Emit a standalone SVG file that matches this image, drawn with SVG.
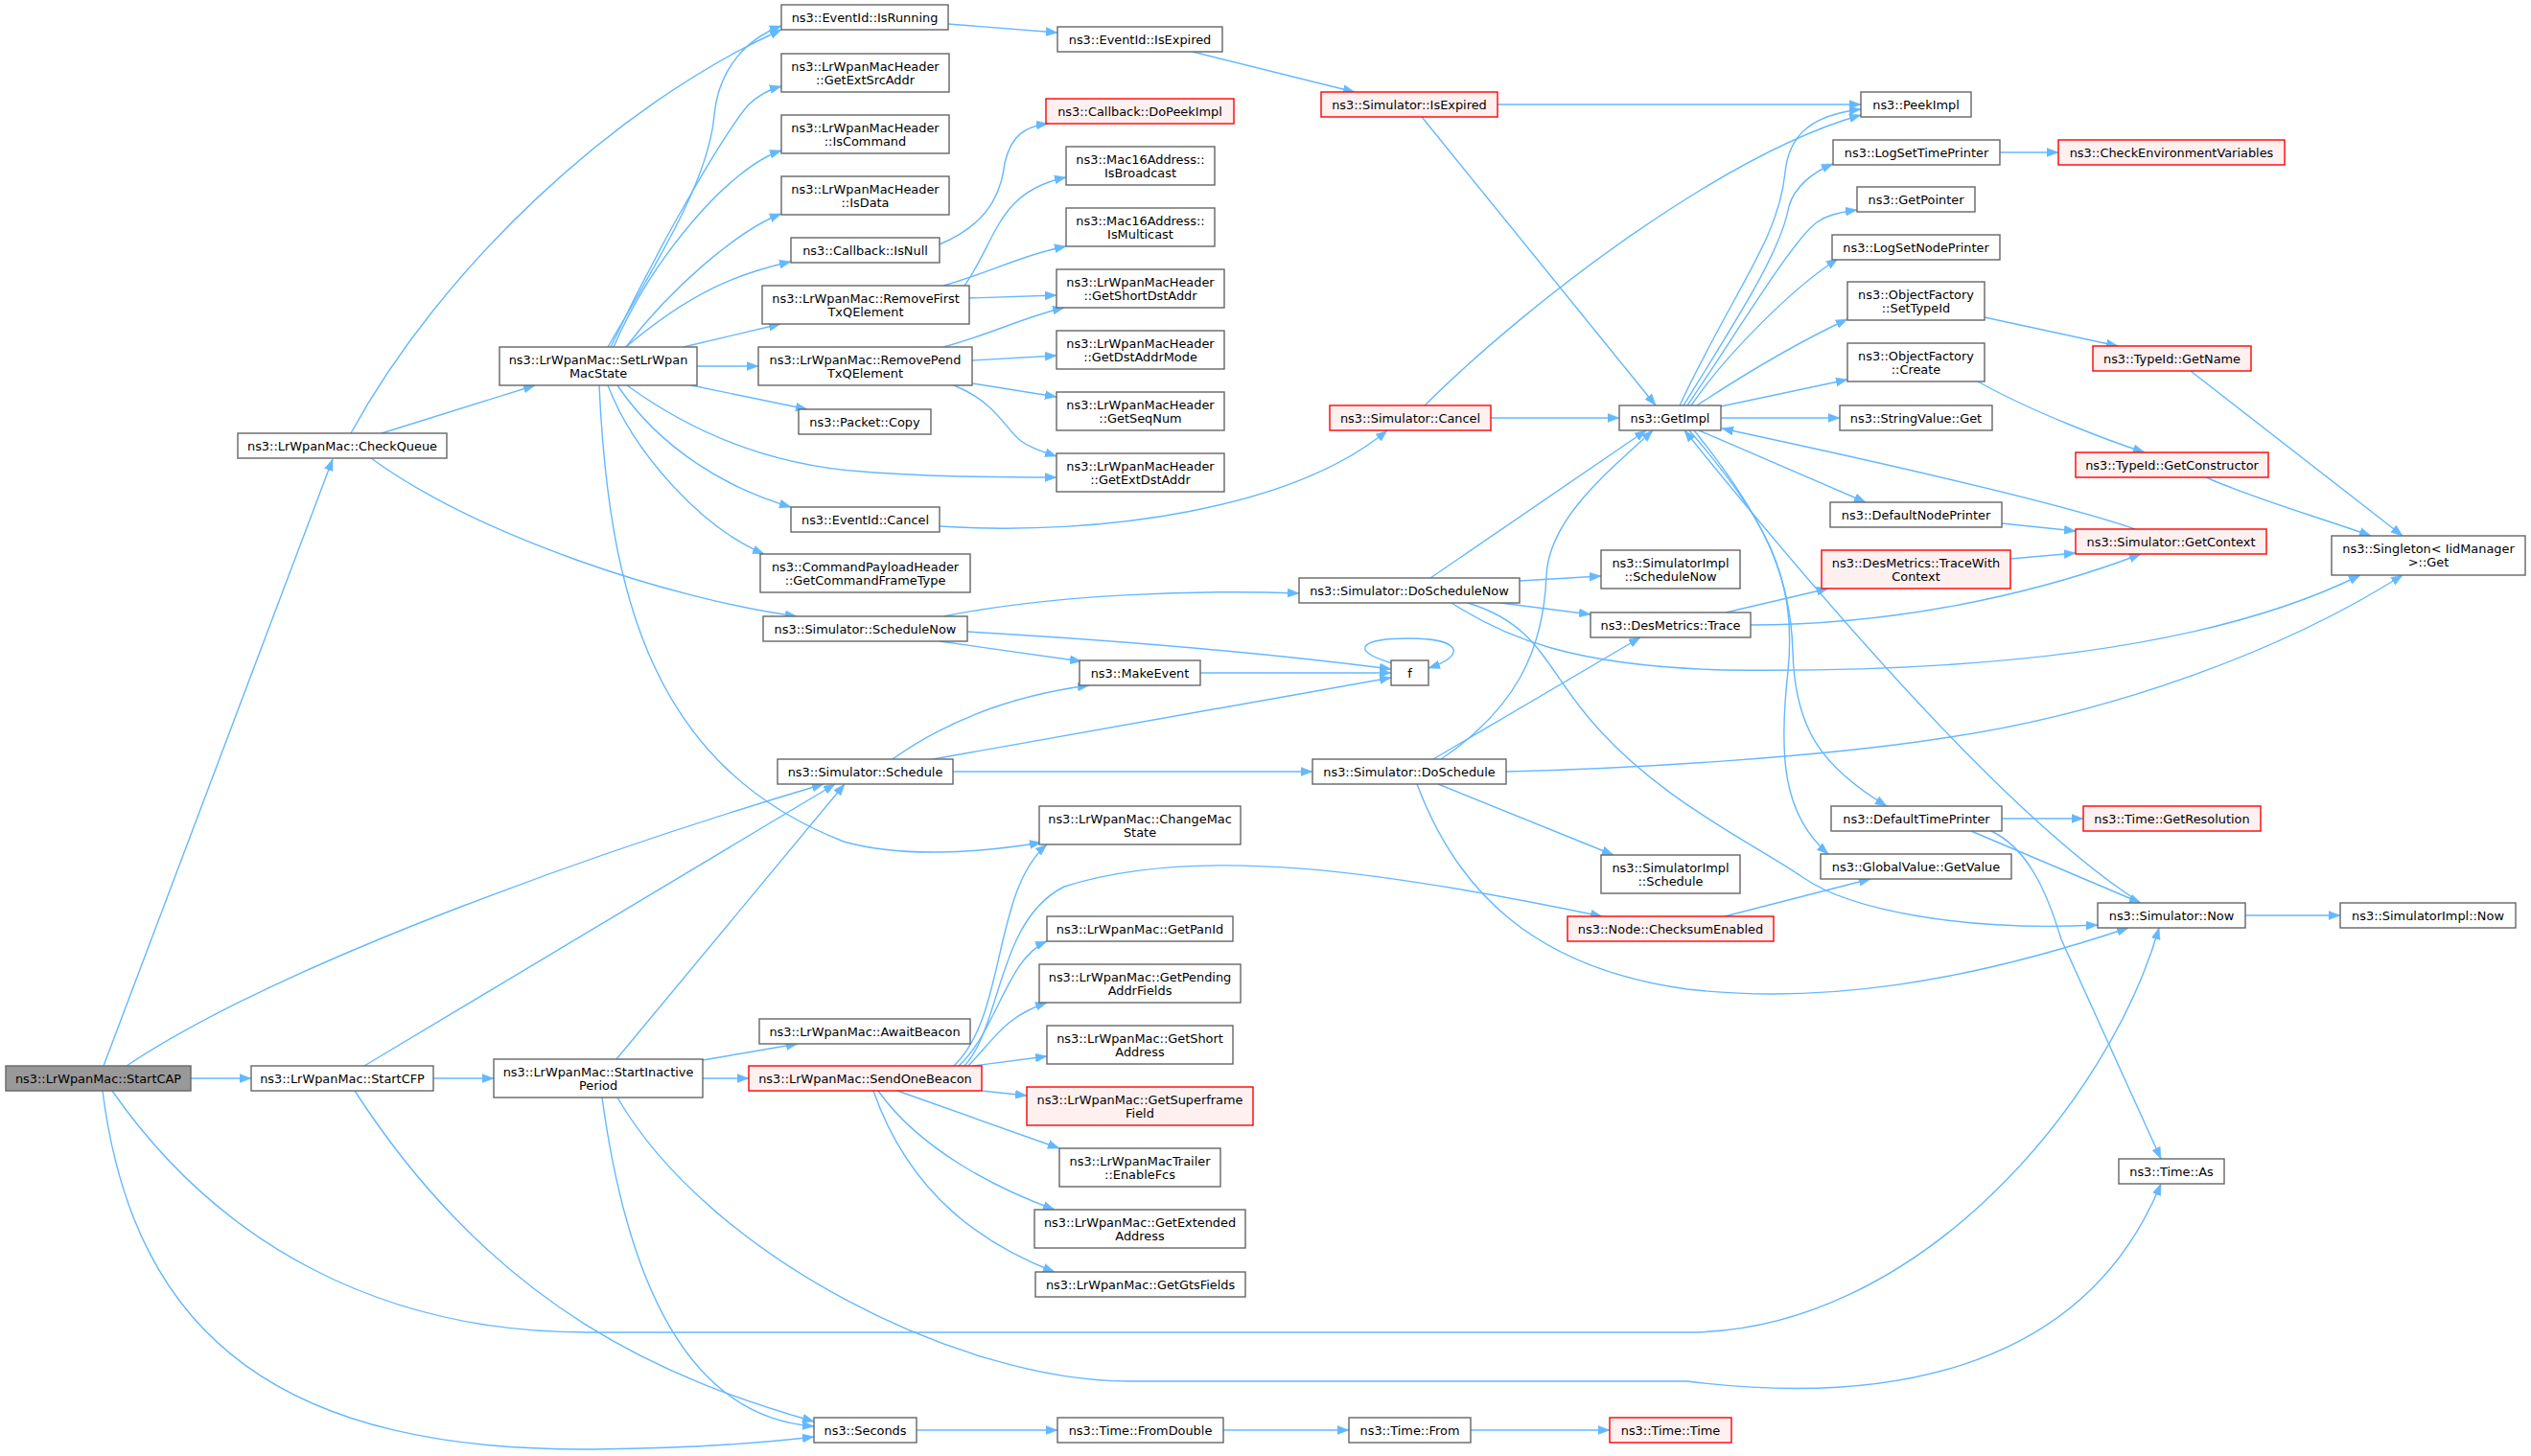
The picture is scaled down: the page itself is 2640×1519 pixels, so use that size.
<svg xmlns="http://www.w3.org/2000/svg" width="2640" height="1519" viewBox="0 0 2640 1519">
<style>
.n rect{fill:#ffffff;stroke:#666666;stroke-width:1.4}
.r rect{fill:#FFF0F0;stroke:#FF0000;stroke-width:1.4}
.root rect{fill:#999999;stroke:#666666;stroke-width:1.4}
text{font-family:"DejaVu Sans","Liberation Sans",sans-serif;font-size:12.9px;text-anchor:middle;fill:#000000}
#edges path{fill:none;stroke:#63B8FF;stroke-width:1.4;marker-end:url(#ah)}
</style>
<defs>
<marker id="ah" viewBox="0 0 12 10" refX="12" refY="5" markerWidth="12" markerHeight="10" markerUnits="userSpaceOnUse" orient="auto">
<path d="M0,0.5 L12,5 L0,9.5 z" fill="#63B8FF" stroke="#63B8FF" stroke-width="0.5"/>
</marker>
</defs>
<rect x="0" y="0" width="2640" height="1519" fill="#ffffff"/>
<g id="edges">
<path d="M108,1112 L347,479"/>
<path d="M132,1112 C300,1000 650,880 859,818"/>
<path d="M199,1125 L262,1125"/>
<path d="M117,1138 C230,1300 400,1390 612,1390 L1760,1390 C2000,1390 2200,1150 2252,968"/>
<path d="M107,1138 C140,1400 300,1515 620,1512 C720,1511 790,1506 849,1499"/>
<path d="M380,1112 L871,818"/>
<path d="M452,1125 L515,1125"/>
<path d="M370,1138 C520,1370 700,1440 849,1483"/>
<path d="M643,1105 L881,818"/>
<path d="M733,1106 L832,1089"/>
<path d="M733,1125 L781,1125"/>
<path d="M628,1145 C660,1380 740,1480 849,1488"/>
<path d="M644,1145 C740,1310 1000,1441 1177,1441 L1760,1441 C1950,1465 2170,1440 2254,1235"/>
<path d="M995,1112 C1050,1060 1035,930 1092,881"/>
<path d="M1000,1112 C1040,1075 1050,1000 1092,982"/>
<path d="M1006,1112 C1045,1070 1040,960 1110,925 C1250,880 1450,910 1671,956"/>
<path d="M1010,1112 C1040,1080 1050,1060 1092,1046"/>
<path d="M1015,1112 L1092,1102"/>
<path d="M1024,1138 L1071,1143"/>
<path d="M936,1138 L1105,1198"/>
<path d="M916,1138 C960,1200 1040,1240 1100,1262"/>
<path d="M911,1138 C950,1250 1030,1300 1100,1327"/>
<path d="M634,362 C700,250 740,180 745,120 C750,70 780,40 815,27"/>
<path d="M637,362 C690,250 755,140 780,110 C790,100 800,94 815,90"/>
<path d="M640,362 C680,270 760,175 815,157"/>
<path d="M653,362 C700,300 770,240 815,223"/>
<path d="M653,362 C720,305 770,285 825,273"/>
<path d="M713,362 L814,338"/>
<path d="M727,382 L791,382"/>
<path d="M721,402 L842,427"/>
<path d="M654,402 C720,450 800,485 900,492 C960,497 1040,498 1102,498"/>
<path d="M644,402 C690,470 760,510 825,529"/>
<path d="M634,402 C660,470 730,550 797,578"/>
<path d="M625,402 C635,620 680,800 880,878 C940,895 1020,890 1086,879"/>
<path d="M366,452 C460,280 640,110 815,31"/>
<path d="M398,452 L558,402"/>
<path d="M387,478 C500,560 700,625 831,643"/>
<path d="M984,643 C1100,620 1250,615 1355,619"/>
<path d="M1008,659 C1200,670 1350,685 1451,698"/>
<path d="M980,669 L1128,690"/>
<path d="M931,792 C990,750 1060,725 1136,715"/>
<path d="M973,792 L1451,707"/>
<path d="M994,805 L1369,805"/>
<path d="M1252,702 L1451,702"/>
<path d="M1452,692 C1405,678 1420,666 1470,666 C1525,666 1530,684 1490,697"/>
<path d="M1492,603 L1717,449"/>
<path d="M1585,606 L1670,601"/>
<path d="M1565,629 L1659,641"/>
<path d="M1514,629 C1570,665 1640,695 1800,699 C2050,702 2300,680 2462,600"/>
<path d="M1531,629 C1600,650 1610,690 1650,740 C1720,830 1830,880 1880,915 C1930,950 2050,972 2188,965"/>
<path d="M1503,792 C1580,740 1610,680 1613,600 C1616,540 1680,490 1724,449"/>
<path d="M1495,792 L1711,665"/>
<path d="M1571,805 C1700,802 1900,790 2027,770 C2200,745 2380,680 2506,600"/>
<path d="M1500,818 L1683,892"/>
<path d="M1478,818 C1520,930 1600,1010 1760,1032 C1900,1048 2050,1025 2220,968"/>
<path d="M1752,423 C1810,300 1855,250 1862,180 C1866,140 1890,120 1941,114"/>
<path d="M1756,423 C1820,320 1858,260 1866,215 C1872,195 1890,180 1912,171"/>
<path d="M1760,423 C1810,350 1870,250 1895,232 C1905,225 1915,222 1937,219"/>
<path d="M1764,423 C1800,370 1870,300 1917,270"/>
<path d="M1770,423 C1820,390 1880,355 1927,333"/>
<path d="M1795,424 L1927,396"/>
<path d="M1795,436 L1919,436"/>
<path d="M1772,449 L1946,524"/>
<path d="M1767,449 C1840,540 1868,600 1870,680 C1872,760 1900,800 1968,841"/>
<path d="M1762,449 C1840,540 1875,600 1865,700 C1855,790 1860,850 1907,891"/>
<path d="M2233,942 C2120,870 1960,700 1757,449"/>
<path d="M2227,552 C2150,525 1950,480 1796,447"/>
<path d="M1562,109 L1941,109"/>
<path d="M1483,122 L1727,423"/>
<path d="M1244,54 L1413,96"/>
<path d="M989,25 L1103,34"/>
<path d="M1486,423 C1600,310 1800,160 1941,120"/>
<path d="M1555,436 L1689,436"/>
<path d="M980,549 C1150,560 1350,530 1447,449"/>
<path d="M980,255 C1040,230 1045,190 1048,170 C1055,140 1070,132 1093,129"/>
<path d="M1006,298 C1040,250 1040,200 1112,185"/>
<path d="M984,298 C1030,285 1070,265 1112,257"/>
<path d="M1011,311 L1102,308"/>
<path d="M984,362 C1030,350 1070,330 1110,321"/>
<path d="M1014,376 L1102,371"/>
<path d="M1014,400 L1102,414"/>
<path d="M995,402 C1040,420 1050,450 1065,460 C1075,468 1090,472 1102,476"/>
<path d="M2070,331 L2209,361"/>
<path d="M2063,398 C2120,430 2200,460 2237,472"/>
<path d="M2285,387 L2506,559"/>
<path d="M2301,498 C2350,520 2420,540 2473,559"/>
<path d="M2086,159 L2147,159"/>
<path d="M2088,546 L2165,554"/>
<path d="M2097,583 L2165,577"/>
<path d="M1800,639 L1907,614"/>
<path d="M1826,652 C2000,652 2150,610 2233,578"/>
<path d="M2088,854 L2173,854"/>
<path d="M2056,867 L2233,942"/>
<path d="M2077,867 C2115,885 2135,930 2150,980 L2254,1209"/>
<path d="M1799,956 L1951,917"/>
<path d="M2342,955 L2441,955"/>
<path d="M956,1492 L1103,1492"/>
<path d="M1276,1492 L1407,1492"/>
<path d="M1534,1492 L1679,1492"/>
</g>
<g id="n_startcap" class="root"><rect x="6" y="1112" width="193" height="26"/><text x="102.5" y="1129.5">ns3::LrWpanMac::StartCAP</text></g>
<g id="n_checkqueue" class="n"><rect x="248" y="452" width="218" height="26"/><text x="357" y="469.5">ns3::LrWpanMac::CheckQueue</text></g>
<g id="n_startcfp" class="n"><rect x="262" y="1112" width="190" height="26"/><text x="357" y="1129.5">ns3::LrWpanMac::StartCFP</text></g>
<g id="n_setstate" class="n"><rect x="521" y="362" width="206" height="40"/><text x="624" y="379.5">ns3::LrWpanMac::SetLrWpan</text><text x="624" y="393.5">MacState</text></g>
<g id="n_startinactive" class="n"><rect x="515" y="1105" width="218" height="40"/><text x="624" y="1122.5">ns3::LrWpanMac::StartInactive</text><text x="624" y="1136.5">Period</text></g>
<g id="n_isrunning" class="n"><rect x="815" y="5" width="174" height="26"/><text x="902" y="22.5">ns3::EventId::IsRunning</text></g>
<g id="n_getextsrc" class="n"><rect x="815" y="56" width="175" height="40"/><text x="902.5" y="73.5">ns3::LrWpanMacHeader</text><text x="902.5" y="87.5">::GetExtSrcAddr</text></g>
<g id="n_iscommand" class="n"><rect x="815" y="120" width="175" height="40"/><text x="902.5" y="137.5">ns3::LrWpanMacHeader</text><text x="902.5" y="151.5">::IsCommand</text></g>
<g id="n_isdata" class="n"><rect x="815" y="184" width="175" height="40"/><text x="902.5" y="201.5">ns3::LrWpanMacHeader</text><text x="902.5" y="215.5">::IsData</text></g>
<g id="n_isnull" class="n"><rect x="825" y="248" width="155" height="26"/><text x="902.5" y="265.5">ns3::Callback::IsNull</text></g>
<g id="n_removefirst" class="n"><rect x="795" y="298" width="216" height="40"/><text x="903" y="315.5">ns3::LrWpanMac::RemoveFirst</text><text x="903" y="329.5">TxQElement</text></g>
<g id="n_removepend" class="n"><rect x="791" y="362" width="223" height="40"/><text x="902.5" y="379.5">ns3::LrWpanMac::RemovePend</text><text x="902.5" y="393.5">TxQElement</text></g>
<g id="n_copy" class="n"><rect x="833" y="427" width="138" height="26"/><text x="902" y="444.5">ns3::Packet::Copy</text></g>
<g id="n_eventcancel" class="n"><rect x="825" y="529" width="155" height="26"/><text x="902.5" y="546.5">ns3::EventId::Cancel</text></g>
<g id="n_cmdpayload" class="n"><rect x="793" y="578" width="219" height="40"/><text x="902.5" y="595.5">ns3::CommandPayloadHeader</text><text x="902.5" y="609.5">::GetCommandFrameType</text></g>
<g id="n_schedulenow" class="n"><rect x="796" y="643" width="213" height="26"/><text x="902.5" y="660.5">ns3::Simulator::ScheduleNow</text></g>
<g id="n_schedule" class="n"><rect x="811" y="792" width="183" height="26"/><text x="902.5" y="809.5">ns3::Simulator::Schedule</text></g>
<g id="n_awaitbeacon" class="n"><rect x="792" y="1063" width="220" height="26"/><text x="902" y="1080.5">ns3::LrWpanMac::AwaitBeacon</text></g>
<g id="n_sendonebeacon" class="r"><rect x="781" y="1112" width="243" height="26"/><text x="902.5" y="1129.5">ns3::LrWpanMac::SendOneBeacon</text></g>
<g id="n_seconds" class="n"><rect x="849" y="1479" width="107" height="26"/><text x="902.5" y="1496.5">ns3::Seconds</text></g>
<g id="n_eventisexpired" class="n"><rect x="1103" y="28" width="172" height="26"/><text x="1189" y="45.5">ns3::EventId::IsExpired</text></g>
<g id="n_dopeekimpl" class="r"><rect x="1091" y="103" width="196" height="26"/><text x="1189" y="120.5">ns3::Callback::DoPeekImpl</text></g>
<g id="n_isbroadcast" class="n"><rect x="1112" y="153" width="155" height="40"/><text x="1189.5" y="170.5">ns3::Mac16Address::</text><text x="1189.5" y="184.5">IsBroadcast</text></g>
<g id="n_ismulticast" class="n"><rect x="1112" y="217" width="155" height="40"/><text x="1189.5" y="234.5">ns3::Mac16Address::</text><text x="1189.5" y="248.5">IsMulticast</text></g>
<g id="n_getshortdst" class="n"><rect x="1102" y="281" width="175" height="40"/><text x="1189.5" y="298.5">ns3::LrWpanMacHeader</text><text x="1189.5" y="312.5">::GetShortDstAddr</text></g>
<g id="n_getdstmode" class="n"><rect x="1102" y="345" width="175" height="40"/><text x="1189.5" y="362.5">ns3::LrWpanMacHeader</text><text x="1189.5" y="376.5">::GetDstAddrMode</text></g>
<g id="n_getseqnum" class="n"><rect x="1102" y="409" width="175" height="40"/><text x="1189.5" y="426.5">ns3::LrWpanMacHeader</text><text x="1189.5" y="440.5">::GetSeqNum</text></g>
<g id="n_getextdst" class="n"><rect x="1102" y="473" width="175" height="40"/><text x="1189.5" y="490.5">ns3::LrWpanMacHeader</text><text x="1189.5" y="504.5">::GetExtDstAddr</text></g>
<g id="n_makeevent" class="n"><rect x="1126" y="689" width="126" height="26"/><text x="1189" y="706.5">ns3::MakeEvent</text></g>
<g id="n_changemac" class="n"><rect x="1084" y="841" width="210" height="40"/><text x="1189" y="858.5">ns3::LrWpanMac::ChangeMac</text><text x="1189" y="872.5">State</text></g>
<g id="n_getpanid" class="n"><rect x="1092" y="956" width="194" height="26"/><text x="1189" y="973.5">ns3::LrWpanMac::GetPanId</text></g>
<g id="n_getpending" class="n"><rect x="1084" y="1006" width="210" height="40"/><text x="1189" y="1023.5">ns3::LrWpanMac::GetPending</text><text x="1189" y="1037.5">AddrFields</text></g>
<g id="n_getshortaddr" class="n"><rect x="1092" y="1070" width="194" height="40"/><text x="1189" y="1087.5">ns3::LrWpanMac::GetShort</text><text x="1189" y="1101.5">Address</text></g>
<g id="n_getsuperframe" class="r"><rect x="1071" y="1134" width="236" height="40"/><text x="1189" y="1151.5">ns3::LrWpanMac::GetSuperframe</text><text x="1189" y="1165.5">Field</text></g>
<g id="n_enablefcs" class="n"><rect x="1105" y="1198" width="168" height="40"/><text x="1189" y="1215.5">ns3::LrWpanMacTrailer</text><text x="1189" y="1229.5">::EnableFcs</text></g>
<g id="n_getextended" class="n"><rect x="1079" y="1262" width="220" height="40"/><text x="1189" y="1279.5">ns3::LrWpanMac::GetExtended</text><text x="1189" y="1293.5">Address</text></g>
<g id="n_getgts" class="n"><rect x="1080" y="1327" width="219" height="26"/><text x="1189.5" y="1344.5">ns3::LrWpanMac::GetGtsFields</text></g>
<g id="n_fromdouble" class="n"><rect x="1103" y="1479" width="173" height="26"/><text x="1189.5" y="1496.5">ns3::Time::FromDouble</text></g>
<g id="n_simisexpired" class="r"><rect x="1378" y="96" width="184" height="26"/><text x="1470" y="113.5">ns3::Simulator::IsExpired</text></g>
<g id="n_simcancel" class="r"><rect x="1387" y="423" width="168" height="26"/><text x="1471" y="440.5">ns3::Simulator::Cancel</text></g>
<g id="n_doschedulenow" class="n"><rect x="1355" y="603" width="230" height="26"/><text x="1470" y="620.5">ns3::Simulator::DoScheduleNow</text></g>
<g id="n_f" class="n"><rect x="1451" y="689" width="39" height="26"/><text x="1470.5" y="706.5">f</text></g>
<g id="n_doschedule" class="n"><rect x="1369" y="792" width="202" height="26"/><text x="1470" y="809.5">ns3::Simulator::DoSchedule</text></g>
<g id="n_timefrom" class="n"><rect x="1407" y="1479" width="127" height="26"/><text x="1470.5" y="1496.5">ns3::Time::From</text></g>
<g id="n_getimpl" class="n"><rect x="1689" y="423" width="106" height="26"/><text x="1742" y="440.5">ns3::GetImpl</text></g>
<g id="n_simimplschedulenow" class="n"><rect x="1670" y="574" width="145" height="40"/><text x="1742.5" y="591.5">ns3::SimulatorImpl</text><text x="1742.5" y="605.5">::ScheduleNow</text></g>
<g id="n_trace" class="n"><rect x="1659" y="639" width="167" height="26"/><text x="1742.5" y="656.5">ns3::DesMetrics::Trace</text></g>
<g id="n_simimplschedule" class="n"><rect x="1670" y="892" width="145" height="40"/><text x="1742.5" y="909.5">ns3::SimulatorImpl</text><text x="1742.5" y="923.5">::Schedule</text></g>
<g id="n_checksum" class="r"><rect x="1635" y="956" width="215" height="26"/><text x="1742.5" y="973.5">ns3::Node::ChecksumEnabled</text></g>
<g id="n_timetime" class="r"><rect x="1679" y="1479" width="127" height="26"/><text x="1742.5" y="1496.5">ns3::Time::Time</text></g>
<g id="n_peekimpl" class="n"><rect x="1941" y="96" width="115" height="26"/><text x="1998.5" y="113.5">ns3::PeekImpl</text></g>
<g id="n_logsettime" class="n"><rect x="1912" y="146" width="174" height="26"/><text x="1999" y="163.5">ns3::LogSetTimePrinter</text></g>
<g id="n_getpointer" class="n"><rect x="1937" y="195" width="123" height="26"/><text x="1998.5" y="212.5">ns3::GetPointer</text></g>
<g id="n_logsetnode" class="n"><rect x="1911" y="245" width="175" height="26"/><text x="1998.5" y="262.5">ns3::LogSetNodePrinter</text></g>
<g id="n_settypeid" class="n"><rect x="1927" y="294" width="143" height="40"/><text x="1998.5" y="311.5">ns3::ObjectFactory</text><text x="1998.5" y="325.5">::SetTypeId</text></g>
<g id="n_create" class="n"><rect x="1927" y="358" width="143" height="40"/><text x="1998.5" y="375.5">ns3::ObjectFactory</text><text x="1998.5" y="389.5">::Create</text></g>
<g id="n_stringvalue" class="n"><rect x="1919" y="423" width="159" height="26"/><text x="1998.5" y="440.5">ns3::StringValue::Get</text></g>
<g id="n_defaultnode" class="n"><rect x="1909" y="524" width="179" height="26"/><text x="1998.5" y="541.5">ns3::DefaultNodePrinter</text></g>
<g id="n_tracewithctx" class="r"><rect x="1900" y="574" width="197" height="40"/><text x="1998.5" y="591.5">ns3::DesMetrics::TraceWith</text><text x="1998.5" y="605.5">Context</text></g>
<g id="n_defaulttime" class="n"><rect x="1910" y="841" width="178" height="26"/><text x="1999" y="858.5">ns3::DefaultTimePrinter</text></g>
<g id="n_globalvalue" class="n"><rect x="1899" y="891" width="199" height="26"/><text x="1998.5" y="908.5">ns3::GlobalValue::GetValue</text></g>
<g id="n_checkenv" class="r"><rect x="2147" y="146" width="236" height="26"/><text x="2265" y="163.5">ns3::CheckEnvironmentVariables</text></g>
<g id="n_getname" class="r"><rect x="2183" y="361" width="165" height="26"/><text x="2265.5" y="378.5">ns3::TypeId::GetName</text></g>
<g id="n_getconstructor" class="r"><rect x="2165" y="472" width="201" height="26"/><text x="2265.5" y="489.5">ns3::TypeId::GetConstructor</text></g>
<g id="n_getcontext" class="r"><rect x="2165" y="552" width="199" height="26"/><text x="2264.5" y="569.5">ns3::Simulator::GetContext</text></g>
<g id="n_getresolution" class="r"><rect x="2173" y="841" width="185" height="26"/><text x="2265.5" y="858.5">ns3::Time::GetResolution</text></g>
<g id="n_simnow" class="n"><rect x="2188" y="942" width="154" height="26"/><text x="2265" y="959.5">ns3::Simulator::Now</text></g>
<g id="n_timeas" class="n"><rect x="2210" y="1209" width="110" height="26"/><text x="2265" y="1226.5">ns3::Time::As</text></g>
<g id="n_singleton" class="n"><rect x="2432" y="559" width="202" height="41"/><text x="2533" y="577">ns3::Singleton&lt; IidManager</text><text x="2533" y="591">&gt;::Get</text></g>
<g id="n_simimplnow" class="n"><rect x="2441" y="942" width="183" height="26"/><text x="2532.5" y="959.5">ns3::SimulatorImpl::Now</text></g>
</svg>
